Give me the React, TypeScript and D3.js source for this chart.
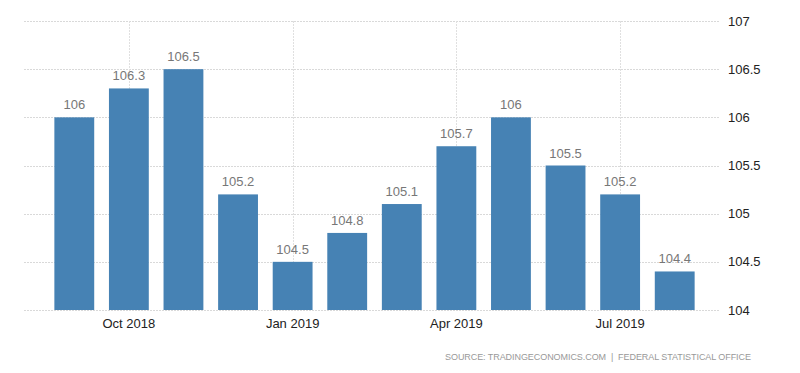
import { useRef, useEffect } from 'react';
import * as d3 from 'd3';

const months = [
  'Sep 2018', 'Oct 2018', 'Nov 2018', 'Dec 2018', 'Jan 2019', 'Feb 2019',
  'Mar 2019', 'Apr 2019', 'May 2019', 'Jun 2019', 'Jul 2019', 'Aug 2019',
];
const values = [106, 106.3, 106.5, 105.2, 104.5, 104.8, 105.1, 105.7, 106, 105.5, 105.2, 104.4];
const xTickLabels = ['Oct 2018', 'Jan 2019', 'Apr 2019', 'Jul 2019'];
const yTicks = [104, 104.5, 105, 105.5, 106, 106.5, 107];
const sourceText = 'SOURCE: TRADINGECONOMICS.COM  |  FEDERAL STATISTICAL OFFICE';

const width = 800;
const height = 373;

export default function App() {
  const svgRef = useRef<SVGSVGElement>(null);

  useEffect(() => {
    document.body.style.margin = '0';
    const svg = d3.select(svgRef.current);
    svg.selectAll('*').remove();

    const gridLeft = 24;
    const gridRight = 720;
    const font = "'Liberation Sans', Arial, sans-serif";

    const x = d3.scaleBand<string>()
      .domain(months)
      .range([47, 702])
      .paddingInner(0.27)
      .paddingOuter(0.135);

    const y = d3.scaleLinear().domain([104, 107]).range([310, 21]);

    // Horizontal grid
    svg.append('g')
      .selectAll('line')
      .data(yTicks)
      .join('line')
      .attr('x1', gridLeft)
      .attr('x2', gridRight)
      .attr('y1', (d) => Math.round(y(d)) + 0.5)
      .attr('y2', (d) => Math.round(y(d)) + 0.5)
      .attr('stroke', '#d9d9d9')
      .attr('stroke-dasharray', '2,1');

    // Vertical grid at quarter labels
    svg.append('g')
      .selectAll('line')
      .data(xTickLabels)
      .join('line')
      .attr('x1', (d) => Math.round(x(d)! + x.bandwidth() / 2) + 0.5)
      .attr('x2', (d) => Math.round(x(d)! + x.bandwidth() / 2) + 0.5)
      .attr('y1', y(107))
      .attr('y2', y(104))
      .attr('stroke', '#e0e0e0')
      .attr('stroke-dasharray', '2,1');

    // Bars
    svg.append('g')
      .selectAll('rect')
      .data(values)
      .join('rect')
      .attr('x', (_d, i) => x(months[i])!)
      .attr('width', x.bandwidth())
      .attr('y', (d) => y(d))
      .attr('height', (d) => y(104) - y(d))
      .attr('fill', '#4682b4');

    // Value labels
    svg.append('g')
      .selectAll('text')
      .data(values)
      .join('text')
      .attr('x', (_d, i) => x(months[i])! + x.bandwidth() / 2)
      .attr('y', (d) => y(d) - 8)
      .attr('text-anchor', 'middle')
      .attr('fill', '#777')
      .attr('font-size', '13px')
      .attr('font-family', font)
      .text((d) => String(d));

    // Y axis labels (right)
    svg.append('g')
      .selectAll('text')
      .data(yTicks)
      .join('text')
      .attr('x', 728)
      .attr('y', (d) => y(d) + 4.5)
      .attr('fill', '#222')
      .attr('font-size', '13px')
      .attr('font-family', font)
      .text((d) => String(d));

    // X axis labels
    svg.append('g')
      .selectAll('text')
      .data(xTickLabels)
      .join('text')
      .attr('x', (d) => x(d)! + x.bandwidth() / 2)
      .attr('y', 328)
      .attr('text-anchor', 'middle')
      .attr('fill', '#222')
      .attr('font-size', '13px')
      .attr('font-family', font)
      .text((d) => d);

    // Source
    svg.append('text')
      .attr('x', 445)
      .attr('y', 360)
      .attr('fill', '#999')
      .attr('font-size', '9px')
      .attr('font-family', font)
      .attr('textLength', 306)
      .attr('lengthAdjust', 'spacing')
      .style('white-space', 'pre')
      .text(sourceText);
  }, []);

  return <svg ref={svgRef} width={width} height={height} style={{ display: 'block', background: '#fff' }} />;
}
